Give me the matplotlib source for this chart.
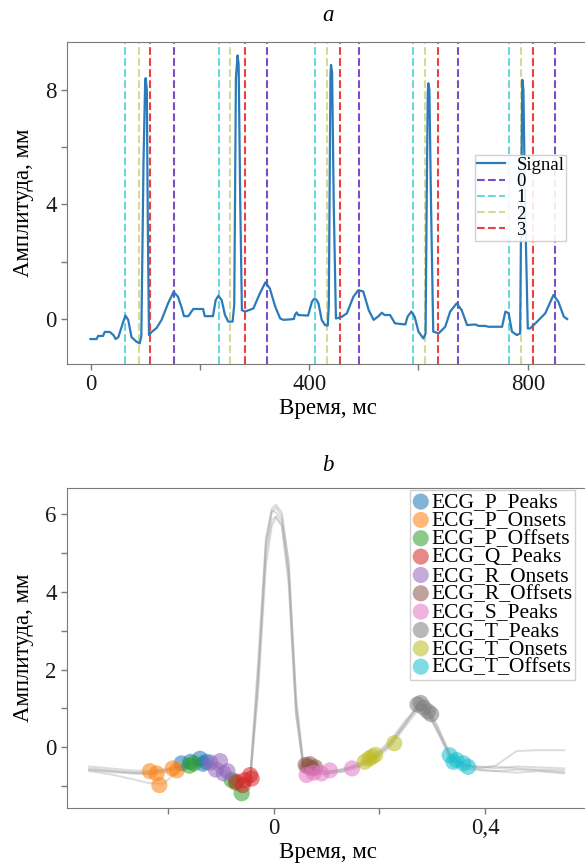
import numpy as np
import matplotlib
matplotlib.use('Agg')
import matplotlib.pyplot as plt

plt.rcParams['font.family'] = ['Liberation Serif', 'DejaVu Serif']

# ---- panel a: signal (sample, amplitude)
sig_t = [0, 11, 14, 23, 26, 35, 42, 46, 51, 60, 64, 69, 75, 84, 90, 93, 97, 100, 101, 103, 105, 107,
         112, 121, 130, 142, 152, 160, 167, 171, 179, 188, 206, 209, 224, 229, 234, 240, 246, 252, 260,
         263, 266, 269, 271, 274, 277, 283, 298, 310, 320, 328, 338, 347, 353, 372, 374, 377, 380, 398,
         405, 409, 413, 417, 423, 429, 434, 436, 439, 440, 442, 445, 449, 455, 460, 469, 481, 490, 499,
         509, 518, 527, 533, 538, 548, 557, 576, 580, 587, 593, 600, 609, 613, 615, 617, 618, 620, 623,
         627, 637, 649, 658, 670, 679, 689, 704, 710, 722, 728, 753, 759, 765, 771, 780, 786, 788, 790,
         792, 795, 800, 804, 814, 832, 847, 856, 866, 872]
sig_a = [-0.70, -0.70, -0.59, -0.59, -0.45, -0.45, -0.56, -0.70, -0.63, -0.09, 0.12, -0.03, -0.63, -0.79,
         -0.85, -0.60, 5.5, 8.3, 8.41, 8.0, 3.0, -0.56,
         -0.45, -0.31, -0.03, 0.55, 0.95, 0.78, 0.38, 0.10, 0.10, 0.35, 0.35, 0.10, 0.10, 0.66, 0.81, 0.66,
         0.14, -0.09, -0.09,
         0.5, 8.4, 9.2, 8.9, 4.0, 0.31, 0.26, 0.37, 0.90, 1.28, 1.07, 0.43, 0.02, -0.03, 0.0, 0.14, 0.23,
         0.14, 0.12,
         0.60, 0.70, 0.68, 0.55, -0.03, -0.21, -0.23, 0.5, 8.5, 8.87, 8.6, 4.0, 0.02, 0.05, 0.08, 0.20,
         0.78, 1.01, 0.96,
         0.31, -0.03, 0.10, 0.22, 0.14, 0.14, -0.15, -0.19, 0.08, 0.26, 0.08, -0.44, -0.68, -0.50, 4.0,
         7.9, 8.23, 8.0, 4.0,
         -0.44, -0.50, -0.27, 0.26, 0.55, 0.31, -0.21, -0.19, -0.24, -0.24, -0.27, -0.27, 0.26, 0.20,
         -0.44, -0.56, -0.50, 4.0, 8.35,
         8.0, 4.0, -0.33, -0.33, -0.15, 0.20, 0.84, 0.60, 0.08, 0.0]

ev_labels = ['0', '1', '2', '3']
ev_colors = ['#6b3cc0', '#5cd3d6', '#cfd98c', '#ee2a2a']
ev_pos = [[152, 322, 492, 673, 850],
          [64, 235, 410, 590, 765],
          [88, 255, 432, 612, 787],
          [108, 282, 457, 635, 810]]

xa_ticks = [0, 200, 400, 600, 800]
xa_labels = ['0', '', '400', '', '800']
ya_ticks = [0, 2, 4, 6, 8]
ya_labels = ['0', '', '4', '', '8']

# ---- panel b: superimposed beats (s, amplitude)
beat_t = [-0.35, -0.31, -0.27, -0.24, -0.21, -0.18, -0.15, -0.12, -0.09, -0.065, -0.045, -0.03, -0.015,
          -0.004, 0.004, 0.015, 0.028, 0.042, 0.056, 0.07, 0.10, 0.13, 0.16, 0.19, 0.22, 0.25, 0.275,
          0.29, 0.31, 0.335, 0.36, 0.39, 0.42, 0.46, 0.50, 0.55]
beat1 = [-0.50, -0.55, -0.60, -0.62, -0.58, -0.50, -0.38, -0.40, -0.62, -0.85, -0.80, 1.8, 5.0, 5.85,
         5.95, 5.75, 4.4, 1.0, -0.48, -0.62, -0.62, -0.60, -0.50, -0.30, 0.05, 0.60, 1.12, 1.05, 0.55,
         -0.22, -0.48, -0.52, -0.50, -0.55, -0.58, -0.60]
beat2 = [-0.58, -0.62, -0.66, -0.68, -0.62, -0.52, -0.42, -0.45, -0.68, -0.88, -0.78, 2.2, 5.4, 6.15,
         6.25, 6.05, 4.7, 1.2, -0.45, -0.58, -0.64, -0.58, -0.48, -0.25, 0.10, 0.65, 1.15, 1.0, 0.45,
         -0.30, -0.50, -0.55, -0.48, -0.10, -0.08, -0.08]
beat3 = [-0.62, -0.70, -0.82, -0.92, -0.95, -0.60, -0.30, -0.36, -0.72, -1.15, -0.90, 1.4, 4.7, 5.70,
         5.92, 5.70, 4.2, 0.8, -0.55, -0.68, -0.70, -0.62, -0.42, -0.20, 0.15, 0.70, 1.02, 0.92, 0.40,
         -0.35, -0.55, -0.60, -0.62, -0.58, -0.60, -0.65]
beat4 = [-0.55, -0.60, -0.65, -0.66, -0.60, -0.48, -0.40, -0.50, -0.80, -0.98, -0.85, 1.6, 5.2, 6.05,
         6.18, 5.95, 4.8, 1.3, -0.50, -0.66, -0.66, -0.56, -0.45, -0.28, 0.08, 0.62, 1.08, 1.02, 0.50,
         -0.25, -0.45, -0.50, -0.55, -0.50, -0.52, -0.55]
beat5 = [-0.60, -0.64, -0.68, -0.70, -0.66, -0.55, -0.44, -0.48, -0.75, -0.92, -0.82, 1.9, 5.3, 6.10,
         6.05, 5.85, 4.5, 0.9, -0.52, -0.72, -0.68, -0.64, -0.52, -0.32, 0.0, 0.55, 0.98, 0.90, 0.40,
         -0.20, -0.42, -0.58, -0.62, -0.66, -0.62, -0.68]
beats = [beat1, beat2, beat3, beat4, beat5]

pt_names = ['ECG_P_Peaks', 'ECG_P_Onsets', 'ECG_P_Offsets', 'ECG_Q_Peaks', 'ECG_R_Onsets',
            'ECG_R_Offsets', 'ECG_S_Peaks', 'ECG_T_Peaks', 'ECG_T_Onsets', 'ECG_T_Offsets']
pt_t = [[-0.175, -0.158, -0.140, -0.134, -0.128],
        [-0.235, -0.222, -0.217, -0.192, -0.184],
        [-0.160, -0.152, -0.080, -0.072, -0.061],
        [-0.071, -0.059, -0.055, -0.045, -0.042],
        [-0.120, -0.110, -0.102, -0.095, -0.088],
        [0.060, 0.064, 0.068, 0.072, 0.078],
        [0.062, 0.075, 0.090, 0.106, 0.148],
        [0.272, 0.278, 0.284, 0.292, 0.298],
        [0.172, 0.180, 0.186, 0.192, 0.228],
        [0.333, 0.340, 0.346, 0.359, 0.368]]
pt_a = [[-0.42, -0.38, -0.30, -0.43, -0.38],
        [-0.62, -0.68, -0.98, -0.55, -0.60],
        [-0.48, -0.42, -0.85, -0.92, -1.19],
        [-0.89, -0.98, -0.85, -0.72, -0.81],
        [-0.40, -0.58, -0.36, -0.68, -0.62],
        [-0.46, -0.50, -0.44, -0.55, -0.52],
        [-0.72, -0.66, -0.68, -0.60, -0.55],
        [1.10, 1.14, 1.02, 0.92, 0.85],
        [-0.38, -0.30, -0.25, -0.20, 0.10],
        [-0.21, -0.38, -0.33, -0.42, -0.51]]

xb_ticks = [-0.2, 0.0, 0.2, 0.4]
xb_labels = ['', '0', '', '0,4']
yb_ticks = [-1, 0, 1, 2, 3, 4, 5, 6]
yb_labels = ['', '0', '', '2', '', '4', '', '6']

fs = 16.5
fig = plt.figure(figsize=(5.85, 8.68), dpi=100)


def style(ax):
    for s in ax.spines.values():
        s.set_color('#7a7a7a')
    ax.tick_params(colors='#7a7a7a', labelcolor='#1a1a1a', labelsize=fs, length=4, width=1)


# a
ax1 = fig.add_axes([67 / 585, 1 - 364 / 868, 522 / 585, 322 / 868])
ax1.plot(sig_t, sig_a, color='#2b7bba', lw=1.6, label='Signal', zorder=3)
for lab, pos, c in zip(ev_labels, ev_pos, ev_colors):
    for k, p in enumerate(pos):
        ax1.axvline(p, color=c, ls='--', lw=1.5, alpha=0.9, label=lab if k == 0 else None)
ax1.set_xlim(-43, 912)
ax1.set_ylim(-1.57, 9.67)
ax1.set_xticks(xa_ticks)
ax1.set_xticklabels(xa_labels)
ax1.set_yticks(ya_ticks)
ax1.set_yticklabels(ya_labels)
style(ax1)
ax1.set_xlabel('Время, мс', fontsize=fs, labelpad=2)
ax1.set_ylabel('Амплитуда, мм', fontsize=fs, labelpad=8)
ax1.set_title('a', fontsize=fs, style='italic', pad=15)
ax1.legend(loc='upper left', bbox_to_anchor=(475 / 585, 1 - 155 / 868), bbox_transform=fig.transFigure,
           fontsize=13.5, borderaxespad=0, borderpad=0.1, labelspacing=-0.05, handlelength=1.5,
           handletextpad=0.6, fancybox=False, edgecolor='#cccccc', framealpha=0.9)

# b
ax2 = fig.add_axes([67 / 585, 1 - 808 / 868, 522 / 585, 320 / 868])
for b in beats:
    ax2.plot(beat_t, b, color='#a8a8a8', alpha=0.4, lw=1.4, zorder=1)
tab = plt.cm.tab10(np.arange(10))
for name, tt, aa, c in zip(pt_names, pt_t, pt_a, tab):
    ax2.scatter(tt, aa, s=135, color=c, alpha=0.55, edgecolors='none', label=name, zorder=3)
ax2.set_xlim(-0.392, 0.597)
ax2.set_ylim(-1.57, 6.68)
ax2.set_xticks(xb_ticks)
ax2.set_xticklabels(xb_labels)
ax2.set_yticks(yb_ticks)
ax2.set_yticklabels(yb_labels)
style(ax2)
ax2.set_xlabel('Время, мс', fontsize=fs, labelpad=2)
ax2.set_ylabel('Амплитуда, мм', fontsize=fs, labelpad=8)
ax2.set_title('b', fontsize=fs, style='italic', pad=12)
ax2.legend(loc='upper left', bbox_to_anchor=(410 / 585, 1 - 490 / 868), bbox_transform=fig.transFigure,
           fontsize=15.5, borderaxespad=0, borderpad=0.1, labelspacing=-0.08, handlelength=0.8,
           handletextpad=0.1, fancybox=False, edgecolor='#cccccc', framealpha=0.9, scatterpoints=1)

fig.savefig('out.png', dpi=100)
